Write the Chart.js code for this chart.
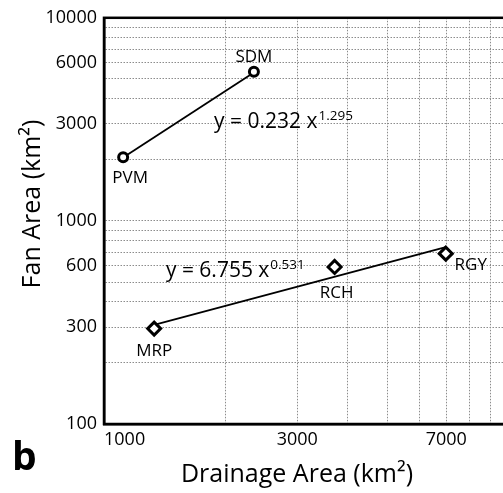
<!DOCTYPE html>
<html>
<head>
<meta charset="utf-8">
<script src="https://cdn.jsdelivr.net/npm/chart.js@4.4.0/dist/chart.umd.min.js"></script>
<style>
  html, body { margin: 0; padding: 0; background: #fff; overflow: hidden; }
  #wrap { width: 520px; height: 493px; position: relative; }
</style>
</head>
<body>
<div id="wrap"><canvas id="fanChart"></canvas></div>
<script>
// Fans with circle markers (drainage area, fan area in km2)
const circleNames = ['PVM', 'SDM'];
const circleDrainage = [1115, 2345];
const circleFan = [2060, 5430];

// Fans with diamond markers
const diamondNames = ['MRP', 'RCH', 'RGY'];
const diamondDrainage = [1330, 3710, 6980];
const diamondFan = [295, 593, 690];

// Power-law fit lines (end points)
const upperFitX = [1115, 2345];
const upperFitY = [2050, 5380];
const lowerFitX = [1330, 6980];
const lowerFitY = [308, 742];

// Axis grid values and the ones that get a label
const xGrid = [1000, 2000, 3000, 4000, 5000, 6000, 7000, 8000, 9000, 10000];
const xTickLabels = [1000, 3000, 7000];
const yGrid = [100, 200, 300, 400, 500, 600, 700, 800, 900,
               1000, 2000, 3000, 4000, 5000, 6000, 7000, 8000, 9000, 10000];
const yTickLabels = [100, 300, 600, 1000, 3000, 6000, 10000];

const xTitle = 'Drainage Area (km²)';
const yTitle = 'Fan Area (km²)';
const panelLetter = 'b';

// Fit equations, anchored in data units (start of baseline)
const equations = [
    { base: 'y = 0.232 x', exp: '1.295', x: 1870, y: 2880 },
    { base: 'y = 6.755 x', exp: '0.531', x: 1422, y: 528 }
];

const FONT = "'Open Sans', 'DejaVu Sans', sans-serif";

function toPoints(xs, ys) {
    return xs.map((x, i) => ({ x: x, y: ys[i] }));
}

// label offsets from marker centre, in pixels
const labelOffsets = { PVM: [7, 20], SDM: [0, -16], MRP: [0, 21], RCH: [2, 25], RGY: [25, 10] };

const annotationPlugin = {
    id: 'annotations',
    afterDraw(chart) {
        const ctx = chart.ctx;
        const area = chart.chartArea;
        const xs = chart.scales.x;
        const ys = chart.scales.y;

        // frame
        ctx.save();
        ctx.strokeStyle = '#000';
        ctx.lineWidth = 2.5;
        ctx.strokeRect(area.left, area.top, area.right - area.left, area.bottom - area.top);
        ctx.restore();

        // point names
        ctx.save();
        ctx.fillStyle = '#000';
        ctx.font = '17px ' + FONT;
        ctx.textAlign = 'center';
        ctx.textBaseline = 'alphabetic';
        const groups = [[0, circleNames], [1, diamondNames]];
        groups.forEach(([dsIndex, names]) => {
            const meta = chart.getDatasetMeta(dsIndex);
            names.forEach((name, i) => {
                const el = meta.data[i];
                const off = labelOffsets[name];
                ctx.fillText(name, el.x + off[0], el.y + off[1] + 6);
            });
        });
        ctx.restore();

        // equations
        ctx.save();
        ctx.fillStyle = '#000';
        ctx.textAlign = 'left';
        ctx.textBaseline = 'alphabetic';
        equations.forEach(eq => {
            const px = xs.getPixelForValue(eq.x);
            const py = ys.getPixelForValue(eq.y);
            ctx.font = '21px ' + FONT;
            ctx.fillText(eq.base, px, py);
            const w = ctx.measureText(eq.base).width;
            ctx.font = '13.5px ' + FONT;
            ctx.fillText(eq.exp, px + w + 1, py - 8);
        });
        ctx.restore();

        // axis titles
        ctx.save();
        ctx.fillStyle = '#000';
        ctx.font = '25px ' + FONT;
        ctx.textAlign = 'center';
        ctx.textBaseline = 'alphabetic';
        ctx.fillText(xTitle, 297, 482);
        ctx.translate(40, 204);
        ctx.rotate(-Math.PI / 2);
        ctx.fillText(yTitle, 0, 0);
        ctx.restore();

        // panel letter
        ctx.save();
        ctx.fillStyle = '#000';
        ctx.font = 'bold 39px ' + FONT;
        ctx.textAlign = 'left';
        ctx.textBaseline = 'alphabetic';
        ctx.fillText(panelLetter, 12, 470);
        ctx.restore();
    }
};

Chart.defaults.font.family = FONT;
Chart.defaults.color = '#000';

const ctx = document.getElementById('fanChart').getContext('2d');
const fanChart = new Chart(ctx, {
    type: 'scatter',
    data: {
        datasets: [
            {
                label: 'circles',
                data: toPoints(circleDrainage, circleFan),
                pointStyle: 'circle',
                pointRadius: 4.5,
                borderWidth: 3,
                borderColor: '#000',
                backgroundColor: '#fff'
            },
            {
                label: 'diamonds',
                data: toPoints(diamondDrainage, diamondFan),
                pointStyle: 'rectRot',
                pointRadius: 6.5,
                borderWidth: 3,
                borderColor: '#000',
                backgroundColor: '#fff'
            },
            {
                label: 'upper fit',
                data: toPoints(upperFitX, upperFitY),
                showLine: true,
                pointRadius: 0,
                borderColor: '#000',
                borderWidth: 1.8
            },
            {
                label: 'lower fit',
                data: toPoints(lowerFitX, lowerFitY),
                showLine: true,
                pointRadius: 0,
                borderColor: '#000',
                borderWidth: 1.8
            }
        ]
    },
    options: {
        responsive: true,
        maintainAspectRatio: false,
        animation: false,
        layout: { padding: { top: 17, right: 11, left: 0, bottom: 0 } },
        plugins: {
            legend: { display: false },
            tooltip: { enabled: false }
        },
        scales: {
            x: {
                type: 'logarithmic',
                min: 1000,
                max: 10000,
                afterBuildTicks: scale => { scale.ticks = xGrid.map(v => ({ value: v })); },
                afterFit: scale => { scale.height = 69; },
                grid: { color: '#8c8c8c', lineWidth: 1, drawTicks: false },
                border: { display: true, color: '#000', width: 2.5, dash: [1.5, 1.5] },
                ticks: {
                    autoSkip: false,
                    maxRotation: 0,
                    minRotation: 0,
                    align: 'inner',
                    padding: 5,
                    font: { size: 18 },
                    callback: value => xTickLabels.includes(value) ? String(value) : ''
                }
            },
            y: {
                type: 'logarithmic',
                min: 100,
                max: 10000,
                afterBuildTicks: scale => { scale.ticks = yGrid.map(v => ({ value: v })); },
                afterFit: scale => { scale.width = 104; },
                grid: { color: '#8c8c8c', lineWidth: 1, drawTicks: false },
                border: { display: true, color: '#000', width: 2.5, dash: [1.5, 1.5] },
                ticks: {
                    autoSkip: false,
                    padding: 7,
                    font: { size: 18 },
                    callback: value => yTickLabels.includes(value) ? String(value) : ''
                }
            }
        }
    },
    plugins: [annotationPlugin]
});
</script>
</body>
</html>
